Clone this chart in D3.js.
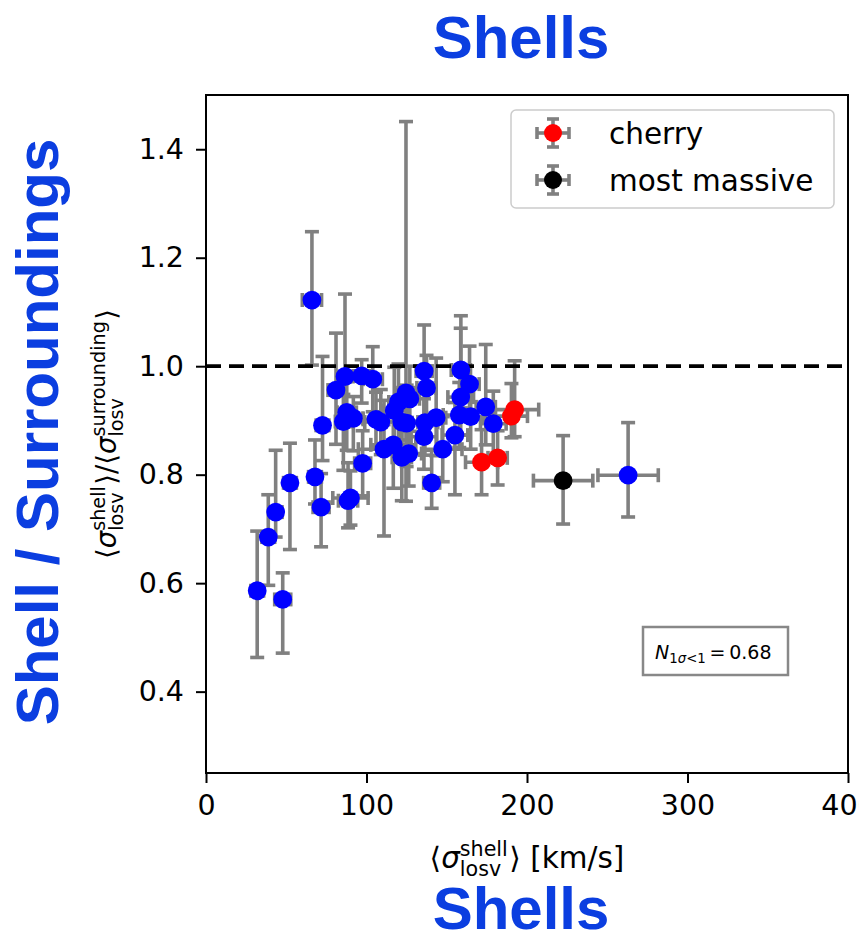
<!DOCTYPE html>
<html>
<head>
<meta charset="utf-8">
<script src="https://cdn.jsdelivr.net/npm/d3@7"></script>
<style>
  body { margin: 0; background: #fff; }
  text { font-family: "DejaVu Sans", sans-serif; fill: #000; }
</style>
</head>
<body>
<svg id="chart" width="859" height="935"></svg>
<script>
// Axis ticks
const xTicks = [0, 100, 200, 300, 400];
const yTicks = [0.4, 0.6, 0.8, 1.0, 1.2, 1.4];

// Shells: mean LOS velocity dispersion and ratio to surroundings, with errors
const shellX = [31.9, 47.8, 38.8, 43.4, 52.3, 67.9, 71.7, 66.0, 72.6, 81.0,
                86.6, 97.0, 103.9, 87.7, 85.6, 91.8, 88.5, 90.0, 97.6, 105.9,
                108.9, 110.9, 116.7, 117.3, 119.9, 124.6, 127.0, 122.0, 125.0, 122.0,
                126.3, 135.9, 137.4, 136.4, 135.8, 143.4, 140.6, 147.5, 155.1, 158.8,
                164.2, 158.7, 157.8, 164.9, 174.3, 179.0, 263.0];
const shellY = [0.586, 0.570, 0.685, 0.731, 0.785, 0.796, 0.740, 1.122, 0.891, 0.956,
                0.981, 0.982, 0.976, 0.915, 0.898, 0.904, 0.752, 0.757, 0.821, 0.902,
                0.897, 0.847, 0.855, 0.918, 0.934, 0.951, 0.940, 0.897, 0.895, 0.832,
                0.839, 0.991, 0.960, 0.896, 0.870, 0.905, 0.785, 0.847, 0.873, 0.993,
                0.967, 0.943, 0.910, 0.907, 0.925, 0.894, 0.799];
const shellYLow = [0.123, 0.099, 0.089, 0.046, 0.123, 0.050, 0.073, 0.120, 0.065, 0.100,
                   0.090, 0.050, 0.060, 0.070, 0.090, 0.060, 0.050, 0.050, 0.060, 0.050,
                   0.060, 0.160, 0.080, 0.060, 0.070, 0.200, 0.060, 0.060, 0.080, 0.080,
                   0.060, 0.090, 0.070, 0.060, 0.060, 0.070, 0.047, 0.060, 0.110, 0.070,
                   0.060, 0.070, 0.060, 0.060, 0.070, 0.060, 0.077];
const shellYHigh = [0.110, 0.049, 0.078, 0.114, 0.073, 0.068, 0.062, 0.126, 0.127, 0.105,
                    0.152, 0.030, 0.060, 0.060, 0.050, 0.040, 0.070, 0.050, 0.060, 0.050,
                    0.060, 0.090, 0.060, 0.080, 0.070, 0.500, 0.060, 0.060, 0.070, 0.070,
                    0.060, 0.085, 0.060, 0.060, 0.070, 0.110, 0.060, 0.060, 0.060, 0.100,
                    0.070, 0.127, 0.060, 0.060, 0.115, 0.060, 0.097];
const shellXErr = [4, 5, 4, 4, 4, 4, 5, 6, 4, 5,
                   5, 5, 6, 6, 5, 6, 6, 11, 5, 8,
                   10, 16, 14, 8, 6, 5, 6, 10, 8, 6,
                   8, 5, 6, 8, 8, 6, 5, 12, 8, 6,
                   6, 8, 10, 8, 6, 8, 18.8];

// Cherry-picked shells
const cherryX = [171.7, 181.7, 190.3, 192.3];
const cherryY = [0.823, 0.831, 0.908, 0.920];
const cherryYLow = [0.060, 0.050, 0.040, 0.050];
const cherryYHigh = [0.060, 0.050, 0.060, 0.090];
const cherryXErr = [10, 6, 10, 15];

// Most massive shell
const massiveX = [222.5];
const massiveY = [0.789];
const massiveYLow = [0.080];
const massiveYHigh = [0.083];
const massiveXErr = [18.5];

const series = [
  { name: "shells", color: "#0000ff", x: shellX, y: shellY, lo: shellYLow, hi: shellYHigh, xe: shellXErr },
  { name: "cherry", color: "#ff0000", x: cherryX, y: cherryY, lo: cherryYLow, hi: cherryYHigh, xe: cherryXErr },
  { name: "most massive", color: "#000000", x: massiveX, y: massiveY, lo: massiveYLow, hi: massiveYHigh, xe: massiveXErr }
];

const svg = d3.select("#chart");
const plotL = 206, plotR = 848, plotT = 95, plotB = 773;
const x = d3.scaleLinear().domain([0, 400]).range([plotL, plotR]);
const y = d3.scaleLinear().domain([0.25, 1.5]).range([plotB, plotT]);

const barColor = "#808080", barW = 3.6, capHalf = 7, dotR = 9.4;

// Error bars for every series first, markers on top afterwards
const barsG = svg.append("g");
series.forEach(s => {
  const rows = s.x.map((v, i) => ({ x: v, y: s.y[i], lo: s.lo[i], hi: s.hi[i], xe: s.xe[i] }));
  const g = barsG.append("g").attr("stroke", barColor).attr("stroke-width", barW).attr("fill", "none");
  rows.forEach(d => {
    const cx = x(d.x), cy = y(d.y);
    const y0 = y(d.y - d.lo), y1 = y(d.y + d.hi);
    const x0 = x(d.x - d.xe), x1 = x(d.x + d.xe);
    g.append("line").attr("x1", cx).attr("x2", cx).attr("y1", y0).attr("y2", y1);
    g.append("line").attr("x1", x0).attr("x2", x1).attr("y1", cy).attr("y2", cy);
    [y0, y1].forEach(yy => g.append("line").attr("x1", cx - capHalf).attr("x2", cx + capHalf).attr("y1", yy).attr("y2", yy));
    [x0, x1].forEach(xx => g.append("line").attr("x1", xx).attr("x2", xx).attr("y1", cy - capHalf).attr("y2", cy + capHalf));
  });
});

// Reference line at ratio = 1
svg.append("line")
  .attr("x1", plotL).attr("x2", plotR).attr("y1", y(1.0)).attr("y2", y(1.0))
  .attr("stroke", "#000").attr("stroke-width", 3.8).attr("stroke-dasharray", "15,8");

series.forEach(s => {
  svg.append("g").selectAll("circle")
    .data(s.x.map((v, i) => [v, s.y[i]]))
    .join("circle")
    .attr("cx", d => x(d[0])).attr("cy", d => y(d[1])).attr("r", dotR)
    .attr("fill", s.color);
});

// Axes
const xAxis = svg.append("g").attr("transform", `translate(0,${plotB})`)
  .call(d3.axisBottom(x).tickValues(xTicks).tickFormat(d3.format("d")).tickSize(10).tickPadding(12));
const yAxis = svg.append("g").attr("transform", `translate(${plotL},0)`)
  .call(d3.axisLeft(y).tickValues(yTicks).tickFormat(d3.format(".1f")).tickSize(10).tickPadding(12));
[xAxis, yAxis].forEach(a => {
  a.select(".domain").remove();
  a.selectAll(".tick line").attr("stroke", "#000").attr("stroke-width", 2);
  a.selectAll(".tick text").style("font-size", "28.5px").style("font-family", "DejaVu Sans").attr("fill", "#000");
});

svg.append("rect").attr("x", plotL).attr("y", plotT).attr("width", plotR - plotL).attr("height", plotB - plotT)
  .attr("fill", "none").attr("stroke", "#000").attr("stroke-width", 2);

// Math-style label: sequence of pieces, stacked super/subscripts
function mathLabel(parent, parts, fs) {
  const g = parent.append("g");
  let cx = 0;
  parts.forEach(p => {
    if (p.sup !== undefined || p.sub !== undefined) {
      let w = 0;
      if (p.sup) {
        const t = g.append("text").attr("x", cx).attr("y", -fs * 0.4).style("font-size", (fs * 0.7) + "px").text(p.sup);
        w = Math.max(w, t.node().getComputedTextLength());
      }
      if (p.sub) {
        const t = g.append("text").attr("x", cx).attr("y", fs * 0.27).style("font-size", (fs * 0.7) + "px").text(p.sub);
        w = Math.max(w, t.node().getComputedTextLength());
      }
      cx += w + fs * 0.05;
    } else {
      const t = g.append("text").attr("x", cx).attr("y", 0).style("font-size", fs + "px")
        .style("font-style", p.it ? "italic" : "normal").text(p.t);
      cx += t.node().getComputedTextLength();
    }
  });
  return { g, width: cx };
}

const xl = mathLabel(svg, [
  { t: "\u27E8" }, { t: "\u03C3", it: true }, { sup: "shell", sub: "losv" }, { t: "\u27E9 [km/s]" }
], 29.5);
xl.g.attr("transform", `translate(${(plotL + plotR) / 2 - xl.width / 2},868)`);

const yl = mathLabel(svg, [
  { t: "\u27E8" }, { t: "\u03C3", it: true }, { sup: "shell", sub: "losv" }, { t: "\u27E9/\u27E8" },
  { t: "\u03C3", it: true }, { sup: "surrounding", sub: "losv" }, { t: "\u27E9" }
], 27.5);
yl.g.attr("transform", `translate(116,${(plotT + plotB) / 2 + yl.width / 2}) rotate(-90)`);

// Legend
const lg = svg.append("g");
lg.append("rect").attr("x", 511).attr("y", 110).attr("width", 323).attr("height", 98).attr("rx", 5)
  .attr("fill", "#fff").attr("fill-opacity", 0.8).attr("stroke", "#cccccc").attr("stroke-width", 1.5);
[{ s: series[1], yy: 133 }, { s: series[2], yy: 180 }].forEach(e => {
  const cx = 553, cy = e.yy;
  const g = lg.append("g").attr("stroke", barColor).attr("stroke-width", barW);
  g.append("line").attr("x1", cx).attr("x2", cx).attr("y1", cy - 14).attr("y2", cy + 14);
  g.append("line").attr("x1", cx - 16).attr("x2", cx + 16).attr("y1", cy).attr("y2", cy);
  [cy - 14, cy + 14].forEach(v => g.append("line").attr("x1", cx - 6).attr("x2", cx + 6).attr("y1", v).attr("y2", v));
  [cx - 16, cx + 16].forEach(v => g.append("line").attr("x1", v).attr("x2", v).attr("y1", cy - 6).attr("y2", cy + 6));
  lg.append("circle").attr("cx", cx).attr("cy", cy).attr("r", 9).attr("fill", e.s.color);
  lg.append("text").attr("x", 609).attr("y", cy + 11).style("font-size", "29.5px").text(e.s.name);
});

// Fraction annotation box
svg.append("rect").attr("x", 643).attr("y", 627).attr("width", 145).attr("height", 48)
  .attr("fill", "#fff").attr("stroke", "#888").attr("stroke-width", 2.5);
const nt = svg.append("text").attr("x", 655).attr("y", 659).style("font-size", "19px");
nt.append("tspan").style("font-style", "italic").text("N");
nt.append("tspan").attr("dy", 4).style("font-size", "13.3px").text("1");
nt.append("tspan").style("font-size", "13.3px").style("font-style", "italic").text("\u03C3");
nt.append("tspan").style("font-size", "13.3px").text("<1");
nt.append("tspan").attr("dy", -4).text("\u2009=\u20090.68");

// Panel captions
const capColor = "#0b3ee0";
const capFont = "Liberation Sans, Arial, sans-serif";
svg.append("text").attr("x", 521).attr("y", 58).attr("text-anchor", "middle")
  .style("font-family", capFont).style("font-weight", "bold")
  .style("font-size", "60px").style("fill", capColor).text("Shells");
svg.append("text").attr("x", 521).attr("y", 929).attr("text-anchor", "middle")
  .style("font-family", capFont).style("font-weight", "bold")
  .style("font-size", "60px").style("fill", capColor).text("Shells");
svg.append("text").attr("transform", "translate(58,432) rotate(-90)").attr("text-anchor", "middle")
  .style("font-family", capFont).style("font-weight", "bold")
  .style("font-size", "60px").style("fill", capColor).text("Shell / Surroundings");
</script>
</body>
</html>
